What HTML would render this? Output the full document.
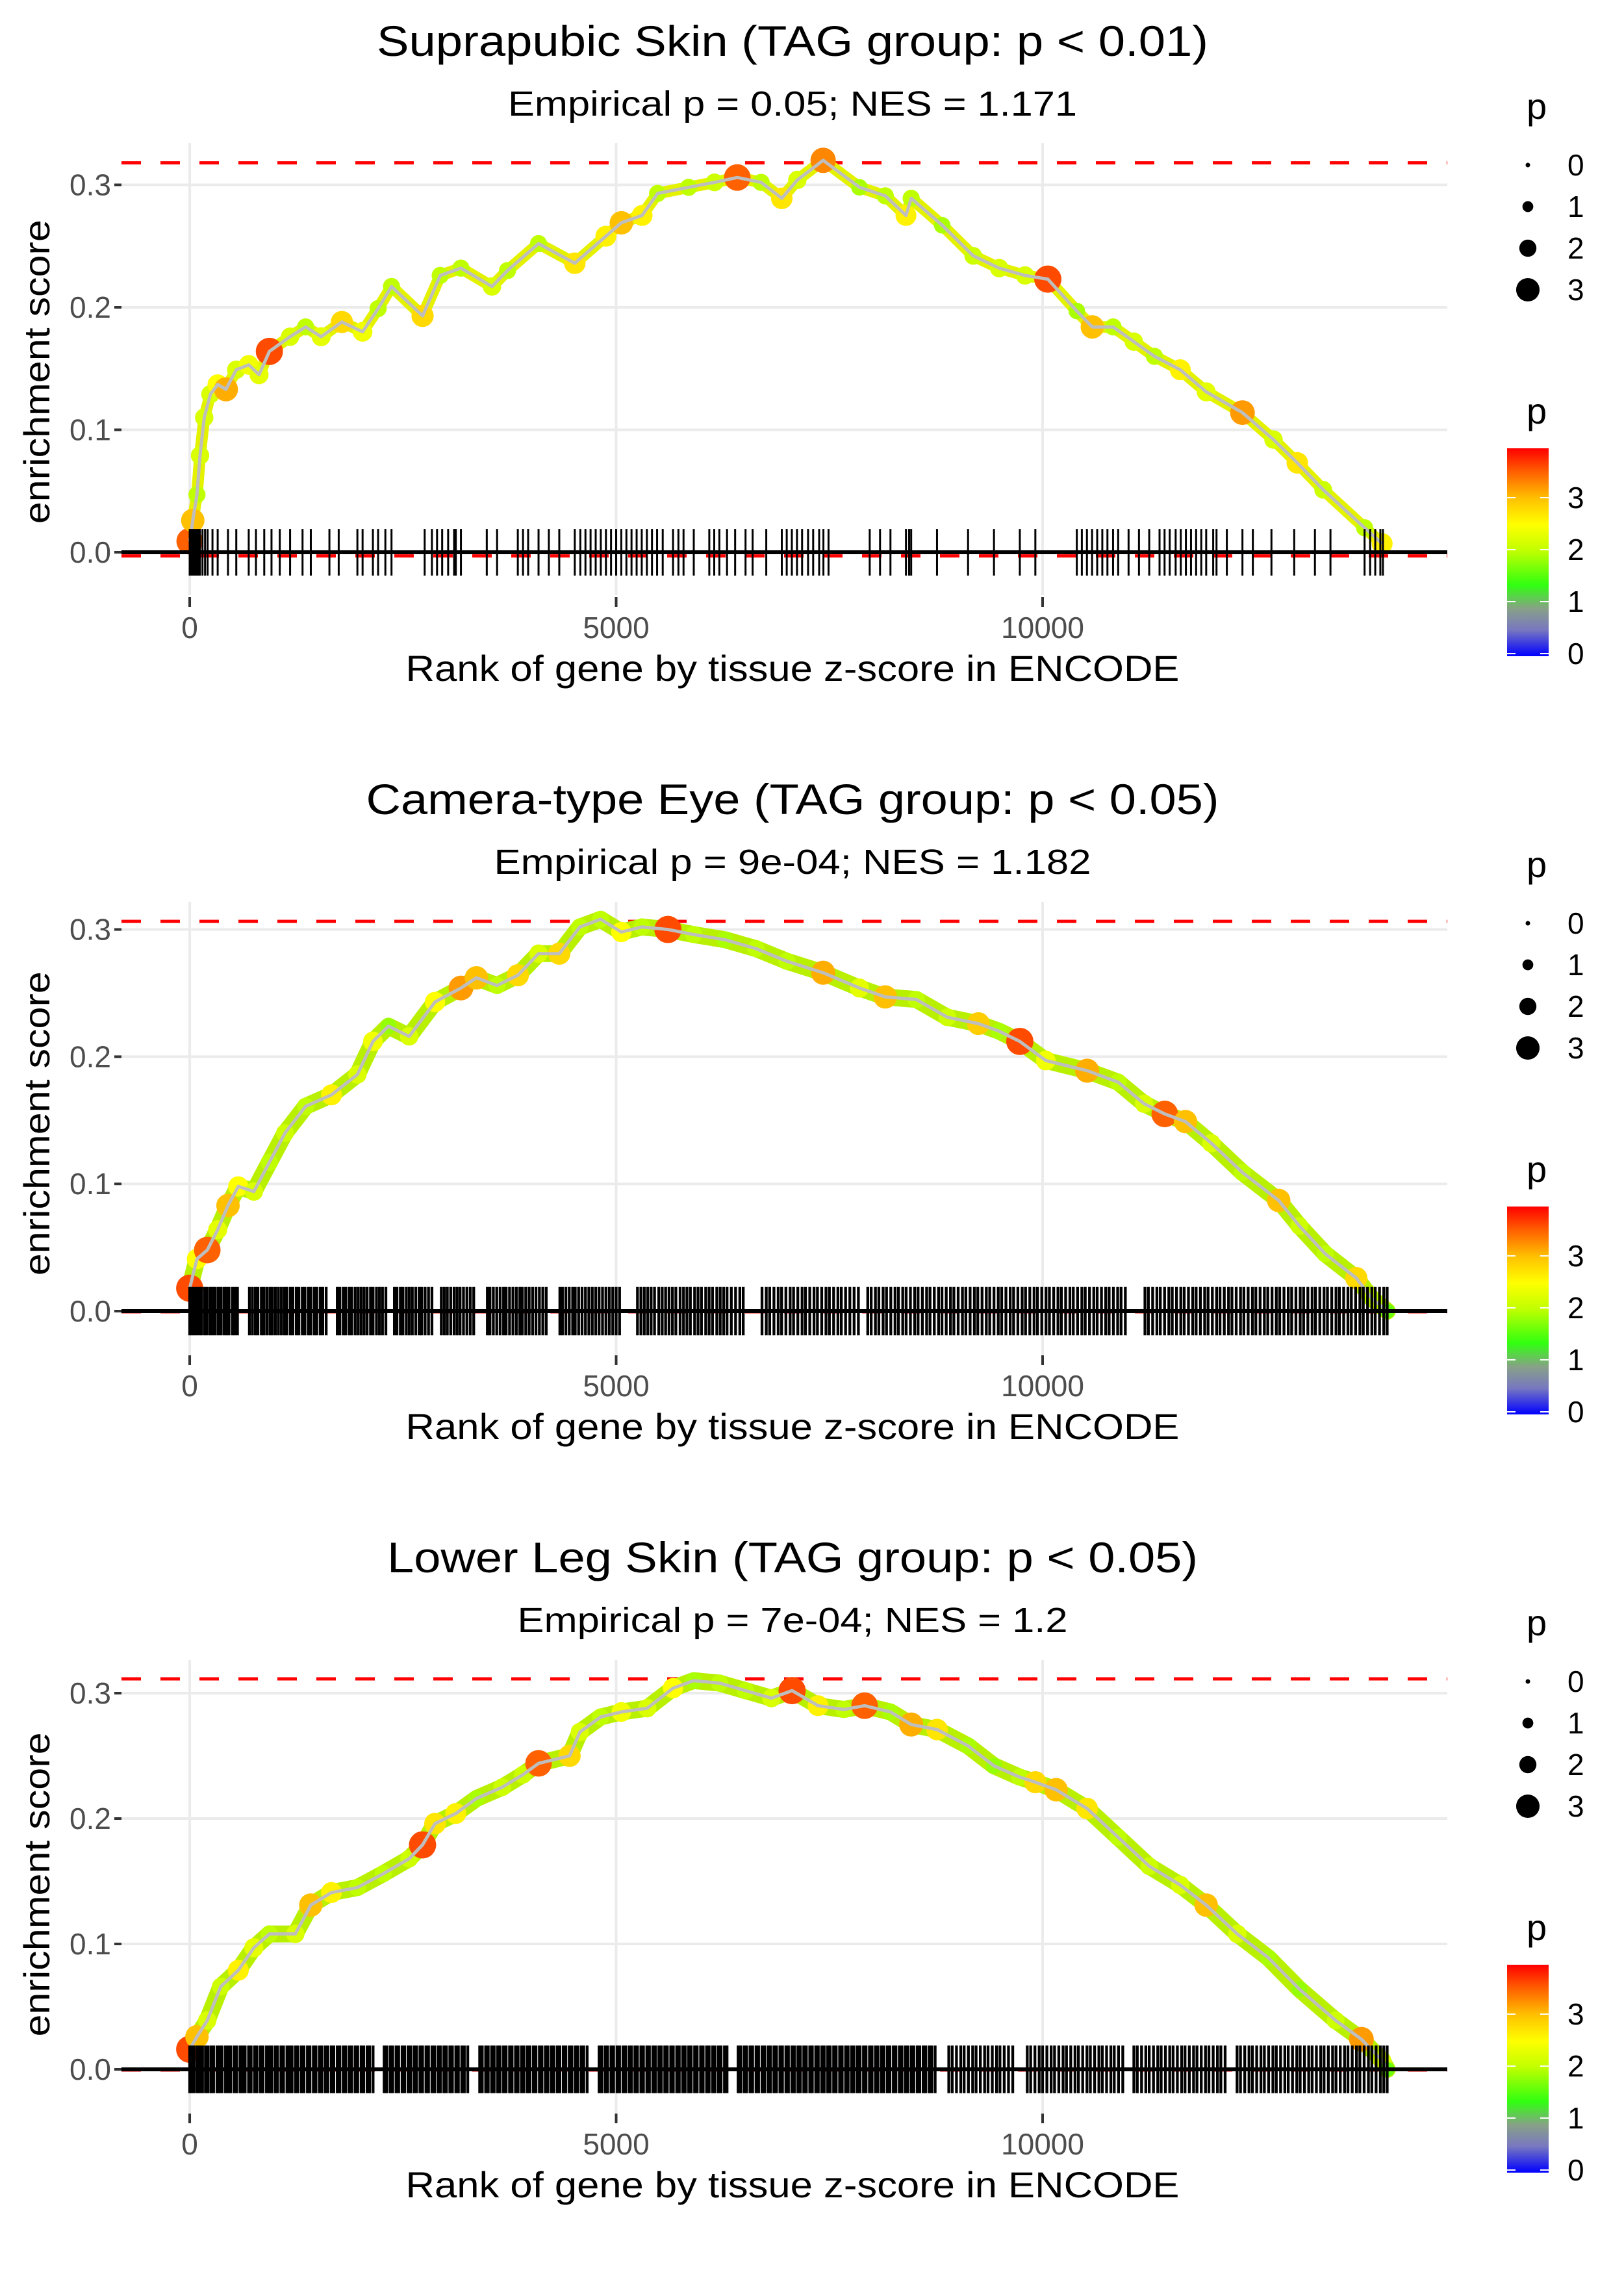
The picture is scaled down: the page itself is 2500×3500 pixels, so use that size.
<!DOCTYPE html>
<html><head><meta charset="utf-8"><style>
html,body{margin:0;padding:0;background:#fff}
svg{display:block}
text{font-family:"Liberation Sans",sans-serif}
</style></head><body>
<svg id="chart" width="2500" height="3500" viewBox="0 0 2500 3500" xmlns="http://www.w3.org/2000/svg">
<defs>
<linearGradient id="pgrad" x1="0" y1="1" x2="0" y2="0">
<stop offset="0" stop-color="#0000ff"/><stop offset="0.127" stop-color="#7878c0"/><stop offset="0.228" stop-color="#88a088"/><stop offset="0.342" stop-color="#30ff10"/><stop offset="0.506" stop-color="#c0ff00"/><stop offset="0.633" stop-color="#ffff00"/><stop offset="0.76" stop-color="#ffc000"/><stop offset="0.886" stop-color="#ff6000"/><stop offset="1" stop-color="#ff0000"/>
</linearGradient>
</defs>
</svg>
<script>
// ---------- Panel 1: Suprapubic Skin ----------
const p1Ranks=[0,36,85,121,170,243,328,425,546,692,813,934,1177,1359,1541,1784,2027,2209,2366,2730,2937,3180,3544,3726,4090,4515,4879,5061,5304,5486,5850,6153,6420,6700,6942,7124,7427,7852,8155,8398,8459,8823,9187,9491,9794,10061,10401,10583,10826,11069,11311,11614,11918,12343,12707,12986,13290,13775,13981];
const p1ES=[0.009,0.026,0.047,0.079,0.110,0.129,0.137,0.133,0.149,0.153,0.145,0.164,0.176,0.184,0.176,0.188,0.180,0.199,0.217,0.193,0.226,0.232,0.217,0.230,0.252,0.236,0.258,0.269,0.275,0.293,0.298,0.302,0.306,0.302,0.289,0.304,0.320,0.298,0.291,0.275,0.289,0.267,0.242,0.232,0.226,0.223,0.197,0.184,0.184,0.172,0.160,0.149,0.131,0.114,0.092,0.073,0.051,0.020,0.007];
const p1P=[3.5,3.0,2.0,2.2,2.2,2.2,2.5,3.1,2.2,2.4,2.3,3.6,2.2,2.0,2.3,2.8,2.4,2.0,2.0,2.8,2.0,2.0,2.2,2.0,2.0,2.7,2.6,3.0,2.6,2.0,2.0,2.1,3.5,2.0,2.7,2.2,3.3,1.9,2.0,2.6,2.0,1.9,2.1,2.2,2.2,3.6,1.9,3.0,2.0,2.2,2.0,2.6,2.3,3.2,2.2,2.7,2.1,2.0,2.6];
const p1Rug=[0,20,40,60,80,100,120,150,180,210,267,328,449,546,692,777,874,959,1056,1177,1323,1420,1638,1747,1966,2027,2148,2209,2294,2366,2755,2840,2900,2960,3030,3100,3120,3180,3483,3604,3847,3908,3968,4090,4211,4333,4515,4580,4640,4700,4760,4820,4880,4940,5000,5060,5120,5180,5240,5300,5360,5420,5480,5546,5667,5730,5790,5910,6092,6150,6210,6300,6395,6517,6600,6760,6942,7000,7060,7120,7180,7250,7310,7380,7430,7490,7973,8094,8216,8398,8435,8459,8762,9126,9430,9733,9915,10401,10460,10520,10580,10640,10700,10760,10826,10886,11008,11130,11250,11371,11430,11490,11560,11620,11680,11740,11800,11860,11918,12000,12039,12160,12343,12465,12683,12950,13193,13375,13775,13840,13900,13960,13990];
const p1Max=0.318, p1Min=-0.003;

// ---------- Panel 2: Camera-type Eye ----------
const p2Ranks=[0,85,206,328,449,570,752,934,1117,1359,1662,1966,2148,2330,2573,2876,3180,3362,3604,3847,4090,4333,4575,4818,5061,5304,5607,5910,6274,6638,7002,7427,7852,8155,8519,8883,9247,9491,9733,10037,10522,10886,11190,11432,11675,11978,12343,12768,13010,13314,13678,13860,14041];
const p2ES=[0.018,0.041,0.048,0.064,0.083,0.098,0.094,0.117,0.140,0.161,0.170,0.186,0.212,0.224,0.216,0.243,0.254,0.262,0.256,0.264,0.281,0.281,0.302,0.308,0.298,0.302,0.300,0.296,0.292,0.285,0.275,0.266,0.254,0.247,0.245,0.231,0.226,0.220,0.212,0.197,0.189,0.180,0.163,0.155,0.149,0.132,0.109,0.087,0.067,0.045,0.026,0.010,0.000];
const p2P=[3.6,2.5,3.5,2.3,3.0,2.5,2.2,2.0,2.1,2.0,2.6,2.2,2.4,1.8,2.2,2.5,3.2,3.0,2.0,2.8,2.2,2.8,2.0,2.0,2.5,2.0,3.6,2.0,1.9,2.0,2.0,3.1,2.3,3.0,2.0,2.1,2.9,1.9,3.6,2.4,3.1,2.0,2.2,3.5,3.0,2.2,2.0,3.0,2.1,2.0,2.8,2.0,1.6];
const p2Rug=[0,25,50,80,110,140,175,205,240,270,300,335,365,400,430,460,500,530,560,700,735,770,800,840,870,905,940,970,1005,1040,1075,1110,1140,1180,1210,1250,1280,1320,1350,1390,1420,1460,1490,1530,1560,1600,1730,1760,1800,1830,1870,1900,1940,1975,2010,2045,2080,2120,2150,2190,2225,2260,2300,2400,2430,2470,2500,2540,2575,2610,2650,2690,2720,2760,2800,2840,2950,2985,3020,3060,3100,3135,3170,3210,3250,3290,3330,3490,3520,3560,3600,3640,3680,3710,3750,3790,3830,3870,3900,3940,3980,4020,4060,4100,4140,4180,4340,4370,4410,4450,4490,4520,4560,4600,4640,4680,4720,4760,4800,4840,4880,4920,4960,5000,5040,5250,5290,5330,5370,5410,5450,5500,5540,5580,5620,5660,5700,5750,5790,5830,5870,5920,5960,6000,6050,6090,6130,6180,6220,6260,6300,6350,6400,6450,6490,6710,6760,6800,6850,6900,6940,6990,7040,7080,7130,7180,7220,7270,7320,7360,7410,7460,7500,7550,7600,7640,7690,7740,7790,7840,7950,7990,8040,8080,8130,8170,8220,8270,8310,8360,8400,8450,8500,8540,8590,8640,8680,8730,8780,8820,8870,8920,8960,9010,9060,9100,9150,9200,9240,9290,9340,9380,9430,9480,9520,9570,9620,9660,9710,9760,9800,9850,9900,9940,9990,10040,10080,10130,10180,10220,10270,10320,10360,10410,10460,10500,10550,10600,10640,10690,10740,10780,10830,10880,10920,10970,11200,11240,11290,11340,11380,11430,11480,11520,11570,11620,11660,11710,11760,11800,11850,11900,11940,11990,12040,12080,12130,12180,12220,12270,12320,12360,12410,12460,12500,12550,12600,12640,12690,12740,12780,12830,12880,12920,12970,13020,13060,13110,13160,13200,13250,13300,13340,13390,13440,13480,13530,13580,13620,13670,13720,13760,13810,13860,13900,13950,14000,14040];
const p2Max=0.3064, p2Min=-0.0005;

// ---------- Panel 3: Lower Leg Skin ----------
const p3Ranks=[0,85,206,364,570,752,934,1238,1420,1662,1966,2269,2573,2730,2876,3119,3362,3665,3908,4090,4454,4575,4818,5061,5364,5667,5910,6214,6517,6820,7063,7367,7670,7913,8216,8459,8762,9126,9430,9733,9915,10158,10522,10886,11250,11614,11918,12282,12646,13010,13435,13738,13981,14041];
const p3ES=[0.016,0.026,0.039,0.066,0.079,0.097,0.108,0.108,0.131,0.141,0.145,0.156,0.168,0.179,0.196,0.204,0.216,0.225,0.235,0.244,0.250,0.269,0.281,0.285,0.288,0.304,0.310,0.308,0.302,0.296,0.302,0.290,0.287,0.290,0.285,0.275,0.271,0.258,0.242,0.233,0.229,0.223,0.208,0.185,0.162,0.147,0.131,0.108,0.089,0.064,0.039,0.024,0.007,0.000];
const p3P=[3.6,3.0,2.2,2.1,2.6,2.3,2.0,2.2,3.0,2.6,2.0,2.0,2.1,3.6,2.7,2.6,1.9,2.1,2.1,3.5,2.8,2.2,2.0,2.4,2.2,2.5,1.9,2.0,2.0,2.2,3.6,2.6,2.0,3.5,1.9,3.1,2.7,1.9,1.8,2.0,2.8,3.0,2.7,2.0,2.1,2.2,3.0,2.2,1.9,1.8,2.1,3.2,2.2,1.6];
const p3Rug=[0,30,55,90,120,150,185,215,250,280,320,350,380,420,450,480,520,550,590,620,650,690,720,760,790,830,860,900,930,960,1000,1030,1070,1100,1140,1170,1200,1240,1270,1310,1340,1380,1410,1450,1480,1520,1550,1590,1620,1660,1690,1730,1760,1800,1830,1870,1900,1940,1970,2010,2040,2080,2110,2150,2280,2310,2350,2380,2420,2450,2490,2520,2560,2590,2630,2660,2700,2730,2770,2800,2840,2870,2910,2940,2980,3010,3050,3080,3120,3150,3190,3220,3260,3400,3430,3470,3500,3540,3570,3610,3640,3680,3710,3750,3780,3820,3850,3890,3920,3960,3990,4030,4060,4100,4130,4170,4200,4240,4270,4310,4340,4380,4410,4450,4480,4520,4550,4590,4620,4660,4800,4830,4870,4900,4940,4970,5010,5040,5080,5110,5150,5180,5220,5250,5290,5320,5360,5390,5430,5460,5500,5530,5570,5600,5640,5670,5710,5740,5780,5810,5850,5880,5920,5950,5990,6020,6060,6090,6130,6160,6200,6230,6270,6300,6430,6460,6500,6530,6570,6600,6640,6670,6710,6740,6780,6810,6850,6880,6920,6950,6990,7020,7060,7090,7130,7160,7200,7230,7270,7300,7340,7370,7410,7440,7480,7510,7550,7580,7620,7650,7690,7720,7760,7790,7830,7860,7900,7930,7970,8000,8040,8070,8110,8140,8180,8210,8250,8280,8320,8350,8390,8420,8460,8490,8530,8560,8600,8630,8670,8700,8740,8900,8940,8990,9040,9080,9130,9180,9220,9270,9320,9360,9410,9460,9500,9550,9600,9650,9820,9860,9910,9960,10000,10050,10100,10140,10190,10240,10280,10330,10380,10420,10470,10520,10560,10610,10660,10700,10750,10800,10840,10890,10940,11070,11110,11160,11210,11250,11300,11350,11390,11440,11490,11530,11580,11630,11670,11720,11770,11810,11860,11910,11950,12000,12050,12090,12140,12280,12320,12370,12420,12460,12510,12560,12600,12650,12700,12740,12790,12840,12880,12930,12980,13020,13070,13120,13160,13210,13260,13300,13350,13400,13440,13490,13540,13580,13630,13680,13720,13770,13820,13860,13910,13960,14000,14040];
const p3Max=0.3114, p3Min=-0.0005;

const xTicks=[0,5000,10000];
const xTickLabels=["0","5000","10000"];
const yTicks=[0,0.1,0.2,0.3];
const yTickLabels=["0.0","0.1","0.2","0.3"];
const sizeLegendVals=[0,1,2,3];
const colorLegendVals=[0,1,2,3];

const panels=[
 {off:0,title:"Suprapubic Skin (TAG group: p < 0.01)",tl:1280,sub:"Empirical p = 0.05; NES = 1.171",sl:876,ranks:p1Ranks,es:p1ES,p:p1P,rug:p1Rug,mx:p1Max,mn:p1Min,zero:850,ppu:1885,top:220,bot:916,band:18,bandCol:"#e4f200",rugW:3},
 {off:1167,title:"Camera-type Eye (TAG group: p < 0.05)",tl:1313,sub:"Empirical p = 9e-04; NES = 1.182",sl:919,ranks:p2Ranks,es:p2ES,p:p2P,rug:p2Rug,mx:p2Max,mn:p2Min,zero:851,ppu:1958,top:221,bot:918,band:26,bandCol:"#b8f000",rugW:4.3},
 {off:2334,title:"Lower Leg Skin (TAG group: p < 0.05)",tl:1248,sub:"Empirical p = 7e-04; NES = 1.2",sl:847,ranks:p3Ranks,es:p3ES,p:p3P,rug:p3Rug,mx:p3Max,mn:p3Min,zero:851,ppu:1930,top:221,bot:918,band:26,bandCol:"#b8f000",rugW:4.3}
];

const NS="http://www.w3.org/2000/svg";
const svg=document.getElementById('chart');
function mk(tag,attrs,parent,txt){const e=document.createElementNS(NS,tag);for(const k in attrs)e.setAttribute(k,attrs[k]);if(txt!==undefined)e.textContent=txt;(parent||svg).appendChild(e);return e;}
const X0=187,X1=2228,XD=[-800,14745];
function xs(v){return X0+(v-XD[0])/(XD[1]-XD[0])*(X1-X0);}
const cStops=[[0,[0,0,255]],[0.5,[120,120,192]],[0.9,[136,160,136]],[1.35,[48,255,16]],[2.0,[192,255,0]],[2.5,[255,255,0]],[3.0,[255,192,0]],[3.5,[255,96,0]],[3.95,[255,0,0]]];
function pcol(v){v=Math.max(0,Math.min(3.95,v));for(let i=1;i<cStops.length;i++){if(v<=cStops[i][0]){const a=cStops[i-1],b=cStops[i];const t=(v-a[0])/(b[0]-a[0]);const c=a[1].map((q,j)=>Math.round(q+(b[1][j]-q)*t));return `rgb(${c[0]},${c[1]},${c[2]})`;}}return "rgb(255,0,0)";}
function psize(v){return 3.5+4.85*v;}

panels.forEach((P,pi)=>{
 const o=P.off;
 const top=o+P.top, bot=o+P.bot;
 const ys=v=>o+P.zero-v*P.ppu;
 const g=mk('g',{});
 
 
 const t=mk('text',{x:1220,y:o+86,'font-size':66,'text-anchor':'middle',fill:'#000',textLength:P.tl,lengthAdjust:'spacingAndGlyphs'},g,P.title);
 
 
 const st=mk('text',{x:1220,y:o+178,'font-size':54,'text-anchor':'middle',fill:'#000',textLength:P.sl,lengthAdjust:'spacingAndGlyphs'},g,P.sub);
 
 
 xTicks.forEach(v=>{const l=mk('line',{x1:xs(v),x2:xs(v),y1:top,y2:bot,stroke:'#ebebeb','stroke-width':4},g);
  
  });
 yTicks.forEach(v=>{const l=mk('line',{x1:X0,x2:X1,y1:ys(v),y2:ys(v),stroke:'#ebebeb','stroke-width':4},g);
  
  });
 xTicks.forEach((v,i)=>{
  const tk=mk('line',{x1:xs(v),x2:xs(v),y1:o+919,y2:o+934,stroke:'#333','stroke-width':4},g);
  
  
  const tl=mk('text',{x:xs(v),y:o+982,'font-size':46,'text-anchor':'middle',fill:'#4d4d4d'},g,xTickLabels[i]);
  
  });
 yTicks.forEach((v,i)=>{
  const tk=mk('line',{x1:X0-11,x2:X0,y1:ys(v),y2:ys(v),stroke:'#333','stroke-width':4},g);
  
  
  const tl=mk('text',{x:X0-16,y:ys(v)+16,'font-size':46,'text-anchor':'end',fill:'#4d4d4d'},g,yTickLabels[i]);
  
  });
 const xt=mk('text',{x:1220,y:o+1048,'font-size':56,'text-anchor':'middle',fill:'#000',textLength:1191,lengthAdjust:'spacingAndGlyphs'},g,'Rank of gene by tissue z-score in ENCODE');
 
 
 const yc=(ys(0)+ys(0.3))/2+5;
 const yt=mk('text',{x:0,y:0,'font-size':56,'text-anchor':'middle',fill:'#000',transform:`translate(76,${yc}) rotate(-90)`,textLength:468,lengthAdjust:'spacingAndGlyphs'},g,'enrichment score');
 
 
 [P.mx,P.mn].forEach((v,i)=>{const l=mk('line',{x1:X0,x2:X1,y1:ys(v),y2:ys(v),stroke:'#ff0000','stroke-width':5,'stroke-dasharray':'30 30'},g);
  
  });
 const pts=P.ranks.map((r,i)=>xs(r).toFixed(1)+','+ys(P.es[i]).toFixed(1)).join(' ');
 const band=mk('polyline',{points:pts,fill:'none',stroke:P.bandCol,'stroke-width':P.band,'stroke-linejoin':'round','stroke-linecap':'round'},g);
 
 
 P.ranks.forEach((r,i)=>{const c=mk('circle',{cx:xs(r),cy:ys(P.es[i]),r:psize(P.p[i]),fill:pcol(P.p[i])},g);
  
  });
 const line=mk('polyline',{points:pts,fill:'none',stroke:'#bebebe','stroke-width':5,'stroke-linejoin':'round'},g);
 
 
 P.rug.forEach(r=>{const l=mk('line',{x1:xs(r),x2:xs(r),y1:ys(0.019),y2:ys(-0.019),stroke:'#000','stroke-width':P.rugW},g);
  
  });
 const zl=mk('line',{x1:X0,x2:X1,y1:ys(0),y2:ys(0),stroke:'#000','stroke-width':6},g);
 
 
 const lg=mk('g',{},g);
 
 
 const lt=mk('text',{x:2350,y:o+183,'font-size':56,fill:'#000'},lg,'p');
 
 
 sizeLegendVals.forEach((v,i)=>{const cy=o+254+i*64;
  const c=mk('circle',{cx:2352,cy:cy,r:psize(v),fill:'#000'},lg);
  
  
  const tx=mk('text',{x:2413,y:cy+16,'font-size':46,fill:'#000'},lg,String(v));
  
  });
 const cg=mk('g',{},g);
 
 
 const ct=mk('text',{x:2350,y:o+652,'font-size':56,fill:'#000'},cg,'p');
 
 
 const cbTop=o+690,cbBot=o+1010;
 const cb=mk('rect',{x:2320,y:cbTop,width:64,height:cbBot-cbTop,fill:'url(#pgrad)'},cg);
 
 
 const cy=v=>cbBot-4-v/3.95*(cbBot-4-cbTop);
 colorLegendVals.forEach(v=>{
  const a=mk('line',{x1:2320,x2:2333,y1:cy(v),y2:cy(v),stroke:'#fff','stroke-width':2},cg);
  
  
  const b=mk('line',{x1:2371,x2:2384,y1:cy(v),y2:cy(v),stroke:'#fff','stroke-width':2},cg);
  
  
  const tx=mk('text',{x:2413,y:cy(v)+16,'font-size':46,fill:'#000'},cg,String(v));
  
  });
});
</script>
</body></html>
